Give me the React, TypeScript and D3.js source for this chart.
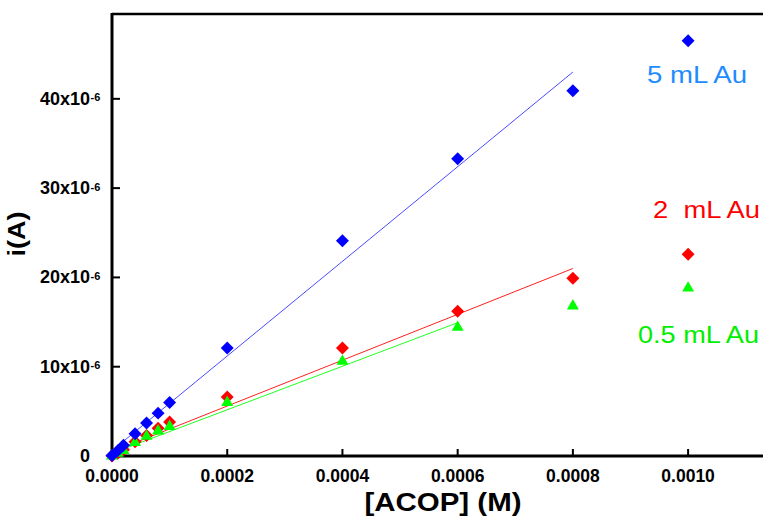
import React from 'react';
import * as d3 from 'd3';

// concentration of ACOP (M)
const conc = [0, 0.00001, 0.00002, 0.00004, 0.00006, 0.00008, 0.0001, 0.0002, 0.0004, 0.0006, 0.0008, 0.001];

// current (A) for each amount of Au
const au5 = [0.05e-6, 0.6e-6, 1.2e-6, 2.5e-6, 3.7e-6, 4.8e-6, 6.0e-6, 12.1e-6, 24.1e-6, 33.3e-6, 40.9e-6, 46.5e-6];
const au2 = [0, 0.3e-6, 0.7e-6, 1.6e-6, 2.3e-6, 3.1e-6, 3.8e-6, 6.6e-6, 12.1e-6, 16.2e-6, 19.9e-6, 22.6e-6];
const au05 = [0, 0.3e-6, 0.6e-6, 1.5e-6, 2.2e-6, 2.8e-6, 3.3e-6, 6.0e-6, 10.6e-6, 14.4e-6, 16.8e-6, 18.8e-6];

// linear fits: [x, y] at start and end
const fit5 = [[0, 0.6e-6], [0.0008, 43.0e-6]];
const fit2 = [[0, 0.46e-6], [0.0008, 21.0e-6]];
const fit05 = [[0, 0.3e-6], [0.0006, 14.93e-6]];

const xTicks = [0, 0.0002, 0.0004, 0.0006, 0.0008, 0.001];
const yTicks = [0, 10e-6, 20e-6, 30e-6, 40e-6];
const yTickLabels = ['0', '10x10', '20x10', '30x10', '40x10'];

const W = 763;
const H = 517;
const left = 112;
const top = 14;
const bottom = 456;

const x = d3.scaleLinear().domain([0, 0.00113]).range([left, W]);
const y = d3.scaleLinear().domain([0, 49.5e-6]).range([bottom, top]);

const line = d3
    .line<number[]>()
    .x(d => x(d[0]))
    .y(d => y(d[1]));

const diamond = d3.symbol(d3.symbolSquare, 84)();
const triangle = d3.symbol(d3.symbolTriangle, 62)();

const font = 'Arial, "Liberation Sans", sans-serif';

export default function App() {
    return (
        <div style={{ position: 'absolute', left: 0, top: 0 }}>
            <svg width={W} height={H} style={{ display: 'block', background: '#fff' }} fontFamily={font}>
                {/* frame */}
                <line x1={left} x2={W} y1={top} y2={top} stroke="#000" strokeWidth={2.5} />
                <line x1={left} x2={left} y1={top - 1} y2={bottom + 1.5} stroke="#000" strokeWidth={3} />
                <line x1={left - 1.5} x2={W} y1={bottom} y2={bottom} stroke="#000" strokeWidth={3} />

                {xTicks.map(t => (
                    <g key={'x' + t}>
                        <line x1={x(t)} x2={x(t)} y1={bottom} y2={bottom - 7} stroke="#000" strokeWidth={2} />
                        <text x={x(t)} y={482} textAnchor="middle" fontSize={17.5} fontWeight="bold">
                            {t.toFixed(4)}
                        </text>
                    </g>
                ))}

                {yTicks.map((t, i) => (
                    <g key={'y' + t}>
                        <line x1={left} x2={left + 8} y1={y(t)} y2={y(t)} stroke="#000" strokeWidth={2} />
                        <text x={90} y={y(t) + 6} textAnchor="end" fontSize={18} fontWeight="bold">
                            {yTickLabels[i]}
                        </text>
                        {i > 0 && (
                            <text x={90.5} y={y(t) + 2.5} fontSize={11} fontWeight="bold">-6</text>
                        )}
                    </g>
                ))}

                <text x={443} y={511} textAnchor="middle" fontSize={25} fontWeight="bold"
                    textLength={157} lengthAdjust="spacingAndGlyphs">[ACOP] (M)</text>
                <text transform="translate(25,234) rotate(-90)" textAnchor="middle" fontSize={24}
                    fontWeight="bold" textLength={45} lengthAdjust="spacingAndGlyphs">i(A)</text>

                {/* fit lines */}
                <path d={line(fit5) || ''} fill="none" stroke="#4a4aff" strokeWidth={1} />
                <path d={line(fit2) || ''} fill="none" stroke="#ff2020" strokeWidth={1} />
                <path d={line(fit05) || ''} fill="none" stroke="#20ff20" strokeWidth={1} />

                {/* markers */}
                {conc.map((c, i) => (
                    <path key={'r' + i} d={diamond || ''} fill="#ff0000"
                        transform={`translate(${x(c)},${y(au2[i])}) rotate(45)`} />
                ))}
                {conc.map((c, i) => (
                    <path key={'g' + i} d={triangle || ''} fill="#00ff00"
                        transform={`translate(${x(c)},${y(au05[i])})`} />
                ))}
                {conc.map((c, i) => (
                    <path key={'b' + i} d={diamond || ''} fill="#0000ff"
                        transform={`translate(${x(c)},${y(au5[i])}) rotate(45)`} />
                ))}

                {/* labels */}
                <text x={647} y={83} fontSize={23} fill="#1e8cff" textLength={100}
                    lengthAdjust="spacingAndGlyphs">5 mL Au</text>
                <text x={653} y={218} fontSize={23} fill="#ff0000" textLength={107}
                    lengthAdjust="spacingAndGlyphs" style={{ whiteSpace: 'pre' }}>{'2  mL Au'}</text>
                <text x={638} y={343} fontSize={23} fill="#00ee00" textLength={121}
                    lengthAdjust="spacingAndGlyphs">0.5 mL Au</text>
            </svg>
        </div>
    );
}
